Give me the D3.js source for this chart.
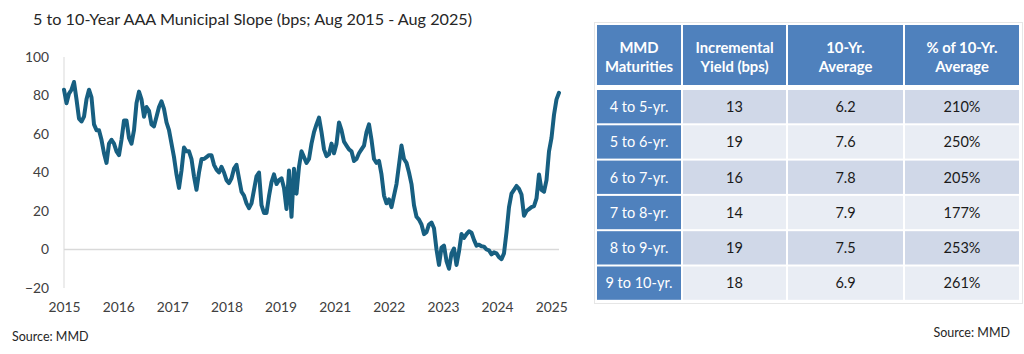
<!DOCTYPE html>
<html><head><meta charset="utf-8">
<script src="https://cdn.jsdelivr.net/npm/d3@7/dist/d3.min.js"></script>
<style>
body{margin:0;background:#fff;}
svg{display:block;font-family:Lato,"Open Sans",sans-serif;}
</style>
</head><body>
<svg id="c" width="1024" height="354"></svg>
<script>
// 5 to 10-year AAA muni slope (bps), Aug 2015 - Aug 2025, evenly spaced readings
const slope = [
83,76,81,83,87,78,68,66.5,69,78,83,79,65,62,62,57,50,45,55,57,
55,51,49,57,67,67,58,55,62,76,82,78,69,74,72,65,64,69,74,77,
73,66,62,55,48,39,32,41,53,51,51,47,38,31,40,47,47,48,49,49,
44,41.5,40,43,40,36,34.5,37,42,44,37,30,28,24,21.5,24,31,38,40,23,
19,19,27.7,35,39,34,36,37,32,21,41,17,42,29,43,51,48,45,47,55,
61,65,68.5,61,52,48.5,49.5,55,50,55,66,62,56,54,52,51,46,47,50,52,
54,61,65,57,47,45,46,39,28,24,26,22,28,34,44,54,47,45,40,34,
23,17,15.5,13,8,9,13,14,11,0,-8,1,2,-6,-10,-2,0.5,-8,-1,8,
6,8,9.5,8.7,5,2,2.5,1.7,1.5,0,-0.5,-2.5,-1.5,-2,-4,-5,-2,9,22,29,
31,33,31.5,28.6,17.5,20,21,22,22.5,26.5,39,31,30,36,51,58,70,78,81.4
];
const yTicks = [-20, 0, 20, 40, 60, 80, 100];
const xLabels = ["2015","2016","2017","2018","2019","2021","2022","2023","2024","2025"];
const labelEvery = 21.65; // readings between category labels

const headers = [["MMD","Maturities"],["Incremental","Yield (bps)"],["10-Yr.","Average"],["% of 10-Yr.","Average"]];
const maturities = ["4 to 5-yr.","5 to 6-yr.","6 to 7-yr.","7 to 8-yr.","8 to 9-yr.","9 to 10-yr."];
const incremental = [13, 19, 16, 14, 19, 18];
const avg10 = ["6.2","7.6","7.8","7.9","7.5","6.9"];
const pctOfAvg = ["210%","250%","205%","177%","253%","261%"];

const svg = d3.select("#c");

// ---------- Chart ----------
svg.append("text").attr("x", 33).attr("y", 25)
  .attr("font-size", 16.2).attr("fill", "#262626")
  .text("5 to 10-Year AAA Municipal Slope (bps; Aug 2015 - Aug 2025)");

const x = d3.scaleLinear().domain([0, slope.length - 1]).range([64, 559]);
const y = d3.scaleLinear().domain([-20, 100]).range([288, 57]);

svg.append("line").attr("x1", 64).attr("x2", 64).attr("y1", y(100)).attr("y2", y(-20))
  .attr("stroke", "#d9d9d9").attr("stroke-width", 1);
svg.append("line").attr("x1", 64).attr("x2", 559).attr("y1", y(0)).attr("y2", y(0))
  .attr("stroke", "#d9d9d9").attr("stroke-width", 1.5);

const yAxis = d3.axisLeft(y).tickValues(yTicks).tickSize(0).tickPadding(0);
const gy = svg.append("g").attr("transform", "translate(49,0)").call(yAxis);
gy.select(".domain").remove();
gy.selectAll("text").attr("font-size", 13.8).attr("fill", "#404040").attr("font-family", "Lato");

const xAxis = d3.axisBottom(x).tickValues(xLabels.map((d, i) => i * labelEvery))
  .tickFormat((d, i) => xLabels[i]).tickSize(0).tickPadding(0);
const gx = svg.append("g").attr("transform", "translate(0,302)").call(xAxis);
gx.select(".domain").remove();
gx.selectAll("text").attr("font-size", 13.8).attr("fill", "#404040").attr("font-family", "Lato");

svg.append("path").datum(slope)
  .attr("d", d3.line().x((d, i) => x(i)).y(d => y(d)).curve(d3.curveLinear))
  .attr("fill", "none").attr("stroke", "#175f81").attr("stroke-width", 4)
  .attr("stroke-linejoin", "round").attr("stroke-linecap", "round");

svg.append("text").attr("x", 12).attr("y", 341).attr("font-size", 12.5).attr("fill", "#262626")
  .text("Source: MMD");

// ---------- Table ----------
const colEdges = [597, 683, 788, 905, 1021];
const gap = 2;
const headTop = 25, headBottom = 85;
const bodyTop = 90, rowPitch = 35.3;
const tbl = svg.append("g");

tbl.append("rect").attr("x", 594.5).attr("y", 22.5).attr("width", 428).attr("height", 281)
  .attr("fill", "none").attr("stroke", "#e6e6e6").attr("stroke-width", 1);

headers.forEach((h, c) => {
  const x0 = colEdges[c], x1 = colEdges[c + 1] - gap;
  tbl.append("rect").attr("x", x0).attr("y", headTop).attr("width", x1 - x0).attr("height", headBottom - headTop)
    .attr("fill", "#4f81bd");
  h.forEach((line, k) => {
    tbl.append("text").attr("x", (x0 + x1) / 2).attr("y", 52.5 + k * 19)
      .attr("text-anchor", "middle").attr("font-size", 14.8).attr("font-weight", "bold")
      .attr("fill", "#ffffff").text(line);
  });
});

const rows = maturities.map((m, i) => [m, String(incremental[i]), avg10[i], pctOfAvg[i]]);
rows.forEach((r, i) => {
  const top = bodyTop + i * rowPitch, h = rowPitch - gap;
  r.forEach((v, c) => {
    const x0 = colEdges[c], x1 = colEdges[c + 1] - gap;
    const fill = c === 0 ? "#4f81bd" : (i % 2 === 0 ? "#d0d8e8" : "#e9edf4");
    tbl.append("rect").attr("x", x0).attr("y", top).attr("width", x1 - x0).attr("height", h).attr("fill", fill);
    tbl.append("text").attr("x", (x0 + x1) / 2).attr("y", top + h / 2 + 5.3)
      .attr("text-anchor", "middle").attr("font-size", 14.5)
      .attr("fill", c === 0 ? "#ffffff" : "#1a1a1a").text(v);
  });
});

svg.append("text").attr("x", 1010).attr("y", 337).attr("text-anchor", "end")
  .attr("font-size", 12.5).attr("fill", "#262626").text("Source: MMD");
</script>
</body></html>
